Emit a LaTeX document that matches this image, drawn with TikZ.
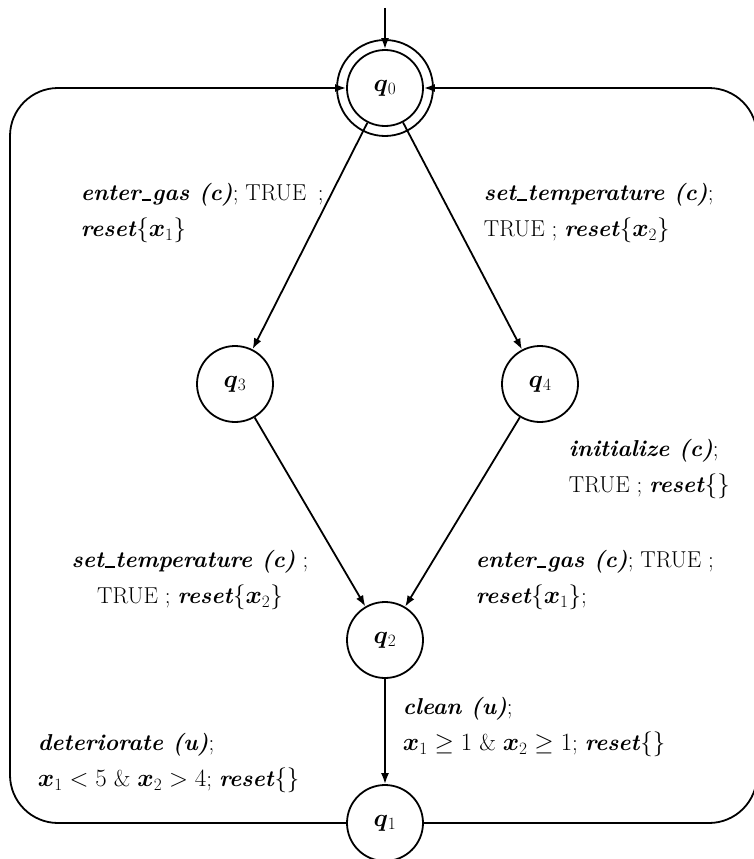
\documentclass[tikz,border=0pt]{standalone}
\usetikzlibrary{arrows.meta}
\newcommand{\bi}[1]{\textbf{\textit{#1}}}
\newcommand{\us}{\kern0.04em\rule[-0.4pt]{0.42em}{1.6pt}\kern0.04em}
\newcommand{\bvar}[1]{\mbox{\boldmath$#1$}}
\newcommand{\mth}[1]{{\fontsize{26}{30}\selectfont$#1$}}
\begin{document}
\begin{tikzpicture}[x=1pt,y=-1pt, line width=1.8pt,
  st/.style={circle, draw, minimum size=76pt, inner sep=0pt, font=\fontsize{23}{26}\selectfont},
  outer/.style={circle, draw, minimum size=96pt, inner sep=0pt},
  lab/.style={align=left, anchor=west, inner sep=0pt, font=\fontsize{23}{36}\selectfont},
  labc/.style={align=center, inner sep=0pt, font=\fontsize{23}{36}\selectfont},
  arr/.style={-{Latex[length=11pt,width=8pt]}}]
\useasboundingbox (0,0) rectangle (753,859);
% states
\node[st] (q0) at (385,88) {\bvar{q}$_0$};
\node[outer] (q0o) at (385,88) {};
\node[st] (q3) at (235,384) {\bvar{q}$_3$};
\node[st] (q4) at (540,384) {\bvar{q}$_4$};
\node[st] (q2) at (385,640) {\bvar{q}$_2$};
\node[st] (q1) at (385,823) {\bvar{q}$_1$};
\coordinate (init) at (385,8);
% edges
\draw[arr] (init) -- (q0);
\draw[arr] (q0) -- (q3);
\draw[arr] (q0) -- (q4);
\draw[arr] (q3) -- (q2);
\draw[arr] (q4) -- (q2);
\draw[arr] (q2) -- (q1);
\draw[arr, rounded corners=48pt] (q1.west) -- (10,823) -- (10,88) -- (q0.west);
\draw[arr, rounded corners=48pt] (q1.east) -- (757,823) -- (757,88) -- (q0.east);
% labels
\node[lab] (l03) at (80,213) {\bi{enter\us gas (c)}; TRUE\hspace{0.5em};\\ \bi{reset}\mth{\{\bvar{x}_1\}}};
\node[lab] (l04) at (483,213) {\bi{set\us temperature (c)};\\ TRUE ; \bi{reset}\mth{\{\bvar{x}_2\}}};
\node[lab] (l10b) at (568,469) {\bi{initialize (c)};\\ TRUE ; \bi{reset}\mth{\{\}}};
\node[labc] (l32) at (190,580) {\bi{set\us temperature (c)} ;\\ TRUE ; \bi{reset}\mth{\{\bvar{x}_2\}}};
\node[lab] (l42) at (475,580) {\bi{enter\us gas (c)}; TRUE ;\\ \bi{reset}\mth{\{\bvar{x}_1\}};};
\node[lab] (l21) at (402,727) {\bi{clean (u)};\\ \mth{\bvar{x}_1 \geq 1} \& \mth{\bvar{x}_2 \geq 1}; \bi{reset}\mth{\{\}}};
\node[lab] (l10a) at (37,763) {\bi{deteriorate (u)};\\ \mth{\bvar{x}_1 < 5} \& \mth{\bvar{x}_2 > 4}; \bi{reset}\mth{\{\}}};
\end{tikzpicture}
\end{document}
